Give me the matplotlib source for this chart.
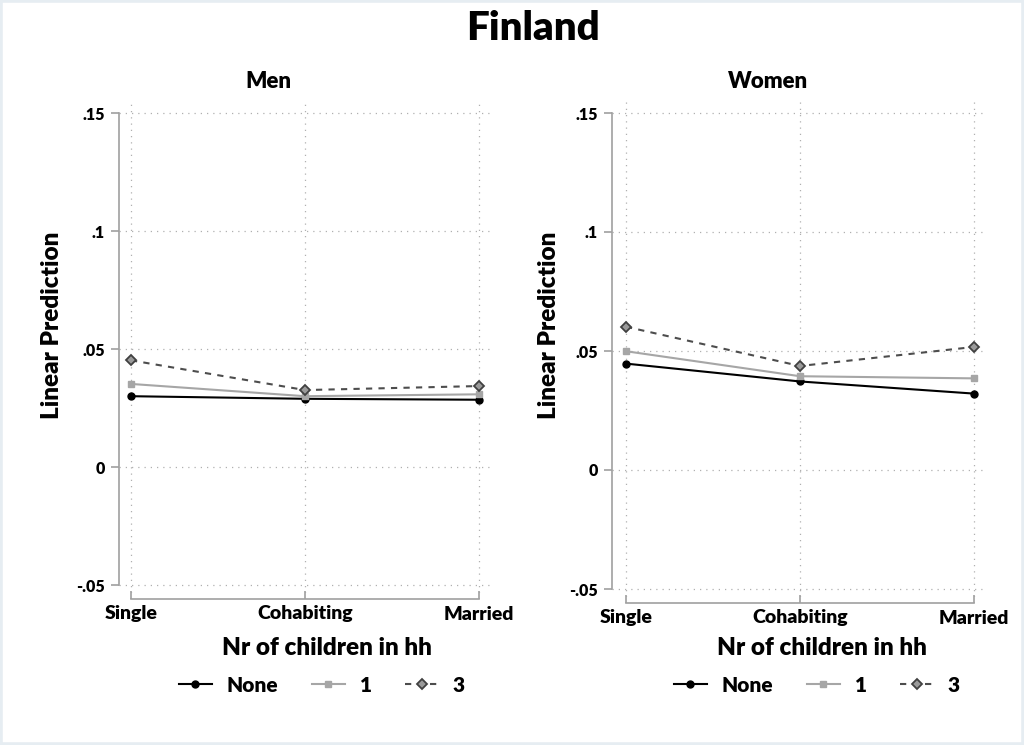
import numpy as np
import matplotlib
matplotlib.use("Agg")
import matplotlib.pyplot as plt
from matplotlib.patches import Rectangle

# data -------------------------------------------
status = ['Single', 'Cohabiting', 'Married']
men_none = [0.0300, 0.0289, 0.0285]
men_one = [0.0352, 0.0300, 0.0308]
men_three = [0.0452, 0.0326, 0.0343]
women_none = [0.0447, 0.0372, 0.0321]
women_one = [0.0499, 0.0394, 0.0385]
women_three = [0.0602, 0.0437, 0.0517]
yticks = [-0.05, 0, 0.05, 0.1, 0.15]
ytick_labels = ['-.05', '0', '.05', '.1', '.15']
legend_labels = ['None', '1', '3']

plt.rcParams['font.family'] = ['Lato', 'DejaVu Sans']
plt.rcParams['font.weight'] = 'bold'

W, H = 1024, 745
fig = plt.figure(figsize=(W/100, H/100), dpi=100)
fig.patch.set_facecolor('white')
fig.add_artist(Rectangle((0, 0), 1, 1, transform=fig.transFigure, fill=False,
                         edgecolor='#e6edf2', linewidth=4))

def px_axes(l, r, t, b):
    return fig.add_axes([l/W, (H-b)/H, (r-l)/W, (b-t)/H])

panels = [
    dict(title='Men', data=(men_none, men_one, men_three), box=(119, 490, 102, 593),
         xlim=(1-12/174, 3+11/174), ylim=(-0.05-8/2360, 0.15+11/2360), tcx=268, ylx=52, xlx=327),
    dict(title='Women', data=(women_none, women_one, women_three), box=(612, 985, 102, 597),
         xlim=(1-14/174, 3+11/174), ylim=(-0.05-8/2380, 0.15+11/2380), tcx=768, ylx=549, xlx=822),
]

x = np.arange(1, 4)
styles = [
    dict(color='black', linestyle='-', marker='o', markersize=5, markerfacecolor='black',
         markeredgecolor='black', linewidth=1.5),
    dict(color='#a6a6a6', linestyle='-', marker='s', markersize=5, markerfacecolor='#a6a6a6',
         markeredgecolor='#a6a6a6', linewidth=1.5),
    dict(color='#4d4d4d', linestyle=(0, (3, 3)), marker='D', markersize=5, markerfacecolor='#9a9a9a',
         markeredgecolor='#404040', markeredgewidth=1.3, linewidth=1.5),
]

for p in panels:
    ax = px_axes(*p['box'])
    ax.set_xlim(*p['xlim'])
    ax.set_ylim(*p['ylim'])
    lines = []
    for vals, st, lab in zip(p['data'], styles, legend_labels):
        ln, = ax.plot(x, vals, label=lab, **st)
        lines.append(ln)
    ax.grid(True, linestyle=(0, (1, 4)), color='#b0b0b0', linewidth=0.9)
    for s in ['top', 'right']:
        ax.spines[s].set_visible(False)
    ax.spines['left'].set_bounds(-0.05, 0.15)
    ax.spines['bottom'].set_bounds(1, 3)
    ax.spines['bottom'].set_position(('outward', 4))
    for s in ['left', 'bottom']:
        ax.spines[s].set_color('#a0a0a0')
        ax.spines[s].set_linewidth(1.2)
    ax.tick_params(axis='y', color='#a0a0a0', length=6, width=1.2, pad=4, labelsize=11.5)
    ax.tick_params(axis='x', color='#a0a0a0', length=6, width=1.2, direction='in', pad=5,
                   labelsize=14)
    ax.set_xticks(x)
    ax.set_xticklabels(status, fontweight='heavy')
    ax.set_yticks(yticks)
    ax.set_yticklabels(ytick_labels, fontweight='heavy')
    fig.text(p['tcx']/W, 1-82/H, p['title'], ha='center', va='center', fontsize=16,
             fontweight='heavy')
    fig.text(p['ylx']/W, 1-325/H, 'Linear Prediction', ha='center', va='center', rotation=90,
             fontsize=17.5, fontweight='heavy')
    fig.text(p['xlx']/W, 1-648/H, 'Nr of children in hh', ha='center', va='center',
             fontsize=17.5, fontweight='heavy')
    fig.legend(handles=lines, labels=legend_labels, loc='center', ncol=3, frameon=False,
               bbox_to_anchor=(p['xlx']/W - 0.005, 1-685/H), handlelength=1.6,
               columnspacing=1.6, handletextpad=0.7, prop={'weight': 'heavy', 'size': 15})

fig.text(533/W, 1-28/H, 'Finland', ha='center', va='center', fontsize=29, fontweight='heavy')

fig.savefig('out.png', dpi=100)
